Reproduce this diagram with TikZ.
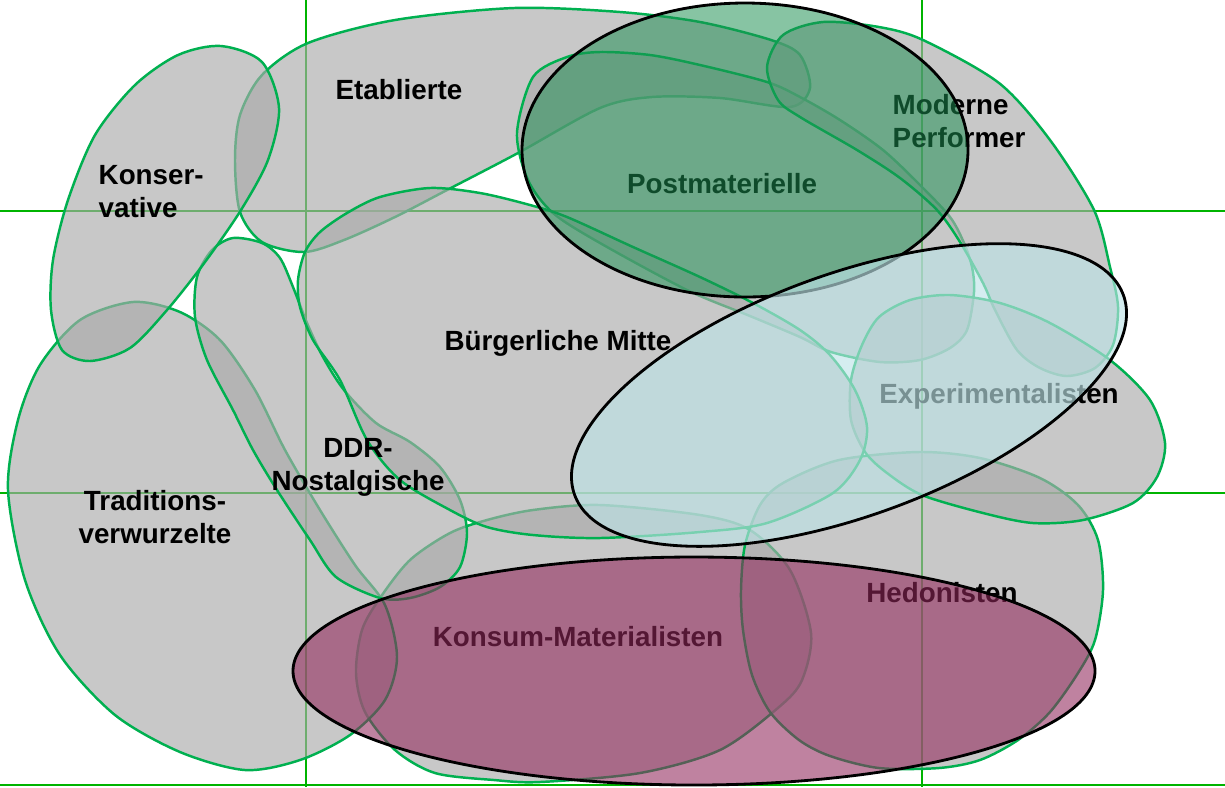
\documentclass[tikz,border=0pt]{standalone}
\usepackage{fontspec}
\setmainfont{Liberation Sans}
\usetikzlibrary{positioning}

\definecolor{milieugreen}{RGB}{0,176,80}
\definecolor{gridgreen}{RGB}{0,180,0}
\definecolor{blobgrey}{RGB}{170,170,170}
\definecolor{postgreen}{RGB}{29,143,82}
\definecolor{expblue}{RGB}{189,227,231}
\definecolor{konsumred}{RGB}{145,40,91}

\begin{document}
\begin{tikzpicture}[x=0.01cm, y=-0.01cm,
milieu/.style={draw=milieugreen, line width=0.7pt, fill=blobgrey, fill opacity=0.65},
gridline/.style={draw=gridgreen, line width=0.7pt},
highlight/.style={draw=black, line width=0.8pt},
milieulabel/.style={font=\fontsize{7.9}{9.4}\selectfont\bfseries, inner sep=0pt, align=center}
]
\useasboundingbox (0,0) rectangle (1225,787);

% grid
\draw[gridline] (306,0) -- (306,787);
\draw[gridline] (922,0) -- (922,787);
\draw[gridline] (0,211) -- (1225,211);
\draw[gridline] (0,493) -- (1225,493);
\draw[gridline] (0,785) -- (1225,785);

% milieus
\path[milieu] plot[smooth cycle] coordinates {(235,160) (240,212) (262,242) (304,252) (344,240) (395,217) (447,190) (518,153) (600,108) (652,97) (720,98) (790,107) (810,88) (800,55) (771,40) (700,22) (620,12) (514,8) (395,20) (308,43) (262,75) (240,115)};
\path[milieu] plot[smooth cycle] coordinates {(517,133) (533,77) (567,57) (600,52) (650,55) (700,65) (767,82) (800,97) (840,120) (883,150) (920,185) (950,217) (964,243) (972,267) (974,292) (967,330) (950,348) (920,360) (880,362) (831,352) (800,337) (750,316) (687,290) (600,243) (553,213) (528,180)};
\path[milieu] plot[smooth cycle] coordinates {(767,67) (783,35) (823,22) (879,27) (923,40) (999,83) (1050,140) (1094,210) (1110,267) (1118,307) (1113,345) (1095,368) (1067,376) (1040,368) (1017,350) (995,310) (983,283) (960,242) (937,210) (900,178) (857,150) (800,117) (778,100)};
\path[milieu] plot[smooth cycle] coordinates {(380,598) (410,560) (450,533) (487,520) (533,510) (600,505) (700,515) (750,530) (790,570) (811,633) (802,680) (779,707) (720,750) (640,773) (540,782) (494,780) (435,773) (395,750) (365,712) (356,673) (362,630)};
\path[milieu] plot[smooth cycle] coordinates {(919,452) (980,458) (1040,478) (1078,505) (1098,540) (1103,590) (1095,640) (1078,673) (1050,712) (1018,740) (980,760) (939,768) (879,768) (830,756) (799,740) (770,712) (752,675) (743,630) (741,590) (745,545) (760,505) (783,483) (839,460)};
\path[milieu] plot[smooth cycle] coordinates {(950,295) (1000,303) (1050,323) (1110,360) (1150,400) (1165,443) (1157,477) (1133,503) (1083,520) (1033,523) (983,513) (922,495) (887,473) (865,452) (851,420) (851,380) (862,345) (879,317) (910,300)};
\path[milieu] plot[smooth cycle] coordinates {(8,490) (18,420) (40,365) (80,320) (133,302) (180,312) (220,340) (255,390) (285,450) (320,510) (355,565) (385,605) (397,657) (385,700) (350,735) (300,760) (245,770) (180,752) (115,715) (60,655) (25,580)};
\path[milieu] plot[smooth cycle] coordinates {(233,238) (262,243) (280,258) (293,287) (307,323) (323,357) (344,390) (376,423) (410,442) (440,467) (460,500) (467,533) (460,567) (440,587) (410,598) (380,598) (336,577) (310,540) (277,490) (253,450) (233,410) (207,360) (195,317) (197,277) (212,250)};
\path[milieu] plot[smooth cycle] coordinates {(305,252) (298,280) (300,307) (313,340) (340,380) (367,440) (400,480) (450,510) (487,527) (533,535) (600,538) (700,532) (767,523) (833,493) (860,460) (867,427) (855,390) (830,355) (800,330) (753,303) (700,277) (633,247) (567,217) (530,205) (480,193) (430,188) (380,197) (347,213) (320,232)};
\path[milieu] plot[smooth cycle] coordinates {(221,46) (262,62) (279,108) (268,160) (241,210) (205,262) (167,310) (130,348) (90,361) (62,350) (51,310) (53,260) (68,200) (95,135) (135,85) (178,55)};

% labels
\node[milieulabel] (etab) at (399,90) {Etablierte};
\node[milieulabel, align=left, anchor=west] (kons) at (98,192) {Konser-\\vative};
\node[milieulabel] (mitte) at (558,343) {Bürgerliche Mitte};
\node[milieulabel] (ddr) at (358,467) {DDR-\\Nostalgische};
\node[milieulabel] (trad) at (155,517) {Traditions-\\verwurzelte};
\node[milieulabel] (post) at (722,184) {Postmaterielle};
\node[milieulabel, align=left, anchor=west] (perf) at (892,121) {Moderne\\Performer};
\node[milieulabel] (exp) at (999,396) {Experimentalisten};
\node[milieulabel] (hedo) at (942,593) {Hedonisten};
\node[milieulabel] (konsum) at (578,637) {Konsum-Materialisten};

% highlights
\path[highlight, fill=postgreen, fill opacity=0.53] (745,150) ellipse [x radius=223, y radius=147];
\path[highlight, fill=expblue, fill opacity=0.64, rotate around={20:(849,395)}] (849,395) ellipse [x radius=292, y radius=121];
\path[highlight, fill=konsumred, fill opacity=0.58] (694,671) ellipse [x radius=401, y radius=114];
\end{tikzpicture}
\end{document}
